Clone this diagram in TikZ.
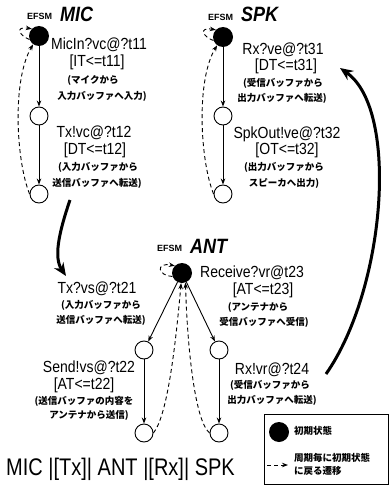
\documentclass[tikz,border=0pt]{standalone}
\usepackage{fontspec}
\setmainfont{Liberation Sans}
\newfontfamily\jp{Noto Sans CJK JP}
\usetikzlibrary{arrows.meta}
\newcommand{\tallt}[1]{\scalebox{1}[1.15]{#1}}
\tikzset{
 st/.style={circle,draw,line width=0.9pt,minimum size=18pt,inner sep=0pt},
 ini/.style={circle,fill=black,minimum size=20pt,inner sep=0pt},
 lab/.style={font=\fontsize{14}{16}\selectfont,inner sep=0pt},
 jl/.style={font=\jp\bfseries\fontsize{9.5}{11}\selectfont,inner sep=0pt},
 efsm/.style={font=\bfseries\fontsize{9}{10}\selectfont,inner sep=0pt},
 mname/.style={font=\bfseries\itshape\fontsize{18}{20}\selectfont,inner sep=0pt},
 tr/.style={draw,line width=0.9pt,-{Stealth[length=6pt,width=4.5pt]}},
 dtr/.style={draw,line width=0.9pt,dash pattern=on 4pt off 3pt,-{Stealth[length=6pt,width=4.5pt]}},
 big/.style={draw,line width=3pt,-{Stealth[length=13pt,width=11pt]}}
}
\begin{document}
\begin{tikzpicture}[x=1pt,y=-1pt]
\useasboundingbox (0,0) rectangle (390,487);
% ---------- MIC ----------
\node[efsm,anchor=west] (t1a) at (27,16) {EFSM};
\node[mname,anchor=west] (t1b) at (60,14) {\tallt{MIC}};
\node[ini] (i1) at (39,36) {};
\node[st] (m1) at (39,116) {};
\node[st] (m2) at (39,194) {};
\draw[tr] (i1) -- (m1);
\draw[tr] (m1) -- (m2);
\draw[dtr] (i1.200) .. controls (20,36) and (14,26) .. (i1.135);
\draw[dtr] (m2.west) .. controls (16,160) and (12,80) .. (i1.235);
\node[lab] (l1) at (99,45) {\tallt{MicIn?vc@?t11}};
\node[lab] (l2) at (97,62) {\tallt{[IT<=t11]}};
\node[jl] (l3) at (93,80) {(マイクから};
\node[jl] (l4) at (102,96) {入力バッファへ入力)};
\node[lab] (l5) at (94,133) {\tallt{Tx!vc@?t12}};
\node[lab] (l6) at (95,150) {\tallt{[DT<=t12]}};
\node[jl] (l7) at (98,167) {(入力バッファから};
\node[jl] (l8) at (97,183) {送信バッファへ転送)};
% ---------- SPK ----------
\node[efsm,anchor=west] (t3a) at (208,17) {EFSM};
\node[mname,anchor=west] (t3b) at (241,14) {\tallt{SPK}};
\node[ini] (s0) at (223,37) {};
\node[st] (s1) at (223,116) {};
\node[st] (s2) at (223,194) {};
\draw[tr] (s0) -- (s1);
\draw[tr] (s1) -- (s2);
\draw[dtr] (s0.200) .. controls (203,37) and (198,27) .. (s0.135);
\draw[dtr] (s2.west) .. controls (200,160) and (196,80) .. (s0.235);
\node[lab] (r1) at (283,50) {\tallt{Rx?ve@?t31}};
\node[lab] (r2) at (286,66) {\tallt{[DT<=t31]}};
\node[jl] (r3) at (283,83) {(受信バッファから};
\node[jl] (r4) at (282,98) {出力バッファへ転送)};
\node[lab] (r5) at (287,134) {\tallt{SpkOut!ve@?t32}};
\node[lab] (r6) at (287,150) {\tallt{[OT<=t32]}};
\node[jl] (r7) at (284,167) {(出力バッファから};
\node[jl] (r8) at (284,183) {スピーカへ出力)};
% ---------- ANT ----------
\node[efsm,anchor=west] (t2a) at (157,248) {EFSM};
\node[mname,anchor=west] (t2b) at (190,246) {\tallt{ANT}};
\node[ini] (a0) at (182,273) {};
\node[st] (al) at (144,350) {};
\node[st] (alb) at (144,433) {};
\node[st] (ar) at (219,350) {};
\node[st] (arb) at (219,433) {};
\draw[tr] (a0) -- (al);
\draw[tr] (al) -- (alb);
\draw[tr] (a0) -- (ar);
\draw[tr] (ar) -- (arb);
\draw[dtr] (a0.200) .. controls (158,276) and (155,262) .. (a0.135);
\draw[dtr] (alb.east) .. controls (168,415) and (176,340) .. (a0.265);
\draw[dtr] (arb.west) .. controls (194,420) and (187,340) .. (a0.290);
\node[lab] (c1) at (97,289) {\tallt{Tx?vs@?t21}};
\node[jl] (c2) at (101,305) {(入力バッファから};
\node[jl] (c3) at (101,320) {送信バッファへ転送)};
\node[lab] (c4) at (89,368) {\tallt{Send!vs@?t22}};
\node[lab] (c5) at (84,385) {\tallt{[AT<=t22]}};
\node[jl] (c6) at (84,401) {(送信バッファの内容を};
\node[jl] (c7) at (89,415) {アンテナから送信)};
\node[lab] (d1) at (252,273) {\tallt{Receive?vr@t23}};
\node[lab] (d2) at (263,290) {\tallt{[AT<=t23]}};
\node[jl] (d3) at (258,307) {(アンテナから};
\node[jl] (d4) at (264,322) {受信バッファへ受信)};
\node[lab] (d5) at (272,370) {\tallt{Rx!vr@?t24}};
\node[jl] (d6) at (270,385) {(受信バッファから};
\node[jl] (d7) at (272,400) {出力バッファへ転送)};
% ---------- inter-machine arrows ----------
\coordinate (p1) at (70,200);
\coordinate (p2) at (66,276);
\draw[big] (p1) .. controls (58,235) and (54,258) .. (p2);
\coordinate (q1) at (326,374);
\coordinate (q2) at (340,68);
\draw[big] (q1) .. controls (385,290) and (400,110) .. (q2);
% ---------- composition ----------
\node[font=\fontsize{20}{22}\selectfont,anchor=west,inner sep=0pt] (comp) at (6,469) {\scalebox{1}[1.2]{MIC |[Tx]| ANT |[Rx]| SPK}};
% ---------- legend ----------
\node[draw,line width=0.9pt,minimum width=124pt,minimum height=70pt,inner sep=0pt] (lg) at (326,449.5) {};
\node[ini] (lgc) at (279,432) {};
\node[jl,anchor=west] (lgt1) at (294,431) {初期状態};
\coordinate (lga) at (267,465);
\coordinate (lgb) at (288,465);
\draw[dtr] (lga) -- (lgb);
\node[jl,anchor=west] (lgt2) at (294,458) {周期毎に初期状態};
\node[jl,anchor=west] (lgt3) at (294,471) {に戻る遷移};
\end{tikzpicture}
\end{document}
